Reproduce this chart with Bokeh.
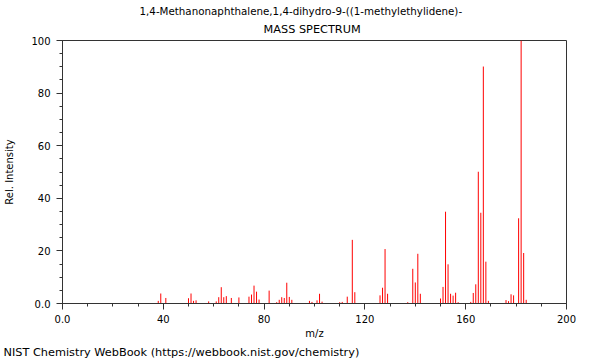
from bokeh.plotting import figure
from bokeh.models import Range1d, FixedTicker, Title
from bokeh.embed import file_html
from bokeh.resources import INLINE

title_line1 = "1,4-Methanonaphthalene,1,4-dihydro-9-((1-methylethylidene)-"
title_line2 = "MASS SPECTRUM"
footer = "NIST Chemistry WebBook (https://webbook.nist.gov/chemistry)"

mz = [38, 39, 41, 50, 51, 52, 53, 58, 61, 62, 63, 64, 65, 67, 70, 74, 75, 76, 77, 78,
      82, 85, 86, 87, 88, 89, 90, 91, 98, 99, 101, 102, 103, 110, 111, 113, 115, 116,
      126, 127, 128, 129, 137, 139, 140, 141, 142, 150, 151, 152, 153, 154, 155, 156,
      157, 162, 163, 164, 165, 166, 167, 168, 169, 176, 177, 178, 179, 181, 182, 183, 184]
intensity = [1.0, 3.8, 2.1, 2.0, 3.8, 1.0, 1.2, 0.8, 0.8, 2.4, 6.2, 2.4, 2.8, 2.1, 2.3,
             2.6, 3.4, 6.8, 4.5, 1.5, 4.9, 0.5, 1.4, 2.4, 2.1, 7.9, 2.5, 1.4, 1.0, 0.6,
             1.2, 3.7, 0.7, 0.5, 0.6, 2.6, 24.2, 4.3, 3.1, 6.0, 20.7, 3.7, 0.5, 13.2, 8.0,
             18.9, 3.7, 1.9, 6.3, 34.9, 14.9, 3.7, 3.0, 4.1, 0.5, 0.6, 4.0, 7.3, 50.1,
             34.5, 90.1, 15.9, 1.0, 1.3, 0.9, 3.5, 3.1, 32.4, 100.0, 19.2, 1.4]
zeros = [0] * len(mz)

x_ticks = [0, 40, 80, 120, 160, 200]
x_minor = list(range(0, 201, 10))
y_ticks = [0, 20, 40, 60, 80, 100]
y_minor = list(range(0, 101, 5))

FONT = "DejaVu Sans"
AX = "#333333"

p = figure(width=600, height=360, output_backend="svg", toolbar_location=None,
           x_range=Range1d(0, 200), y_range=Range1d(0, 100),
           min_border_left=62, min_border_right=34, min_border_top=40, min_border_bottom=56)
p.grid.visible = False
p.outline_line_color = AX
p.outline_line_width = 1
p.background_fill_color = "white"
p.border_fill_color = "white"

p.segment(x0=mz, y0=zeros, x1=mz, y1=intensity, line_color="#ff0000", line_width=1)

for ax, ticks, minor in ((p.xaxis[0], x_ticks, x_minor), (p.yaxis[0], y_ticks, y_minor)):
    ax.ticker = FixedTicker(ticks=ticks, minor_ticks=minor)
    ax.major_label_overrides = {0: "0.0"}
    ax.axis_line_color = AX
    ax.major_tick_line_color = AX
    ax.minor_tick_line_color = AX
    ax.major_tick_out = 6
    ax.major_tick_in = 0
    ax.minor_tick_out = 3
    ax.minor_tick_in = 0
    ax.major_label_text_font = FONT
    ax.major_label_text_font_size = "10px"
    ax.major_label_text_color = "black"
    ax.axis_label_text_font = FONT
    ax.axis_label_text_font_size = "10px"
    ax.axis_label_text_font_style = "normal"
    ax.axis_label_text_color = "black"

p.xaxis.axis_label = "m/z"
p.xaxis.major_label_standoff = 5
p.xaxis.axis_label_standoff = 2
p.yaxis.axis_label = "Rel. Intensity"
p.yaxis.major_label_standoff = 6
p.yaxis.axis_label_standoff = 13

def make_title(text, offset, standoff, size):
    return Title(text=text, align="left", offset=offset, standoff=standoff,
                 text_font=FONT, text_font_size=size, text_font_style="normal",
                 text_color="black")

p.add_layout(make_title(title_line2, 201, 9, "11.3px"), "above")
p.add_layout(make_title(title_line1, 77, 0, "10.3px"), "above")
p.add_layout(make_title(footer, -59, 4, "11.3px"), "below")

open("out.html", "w").write(file_html(p, INLINE))
